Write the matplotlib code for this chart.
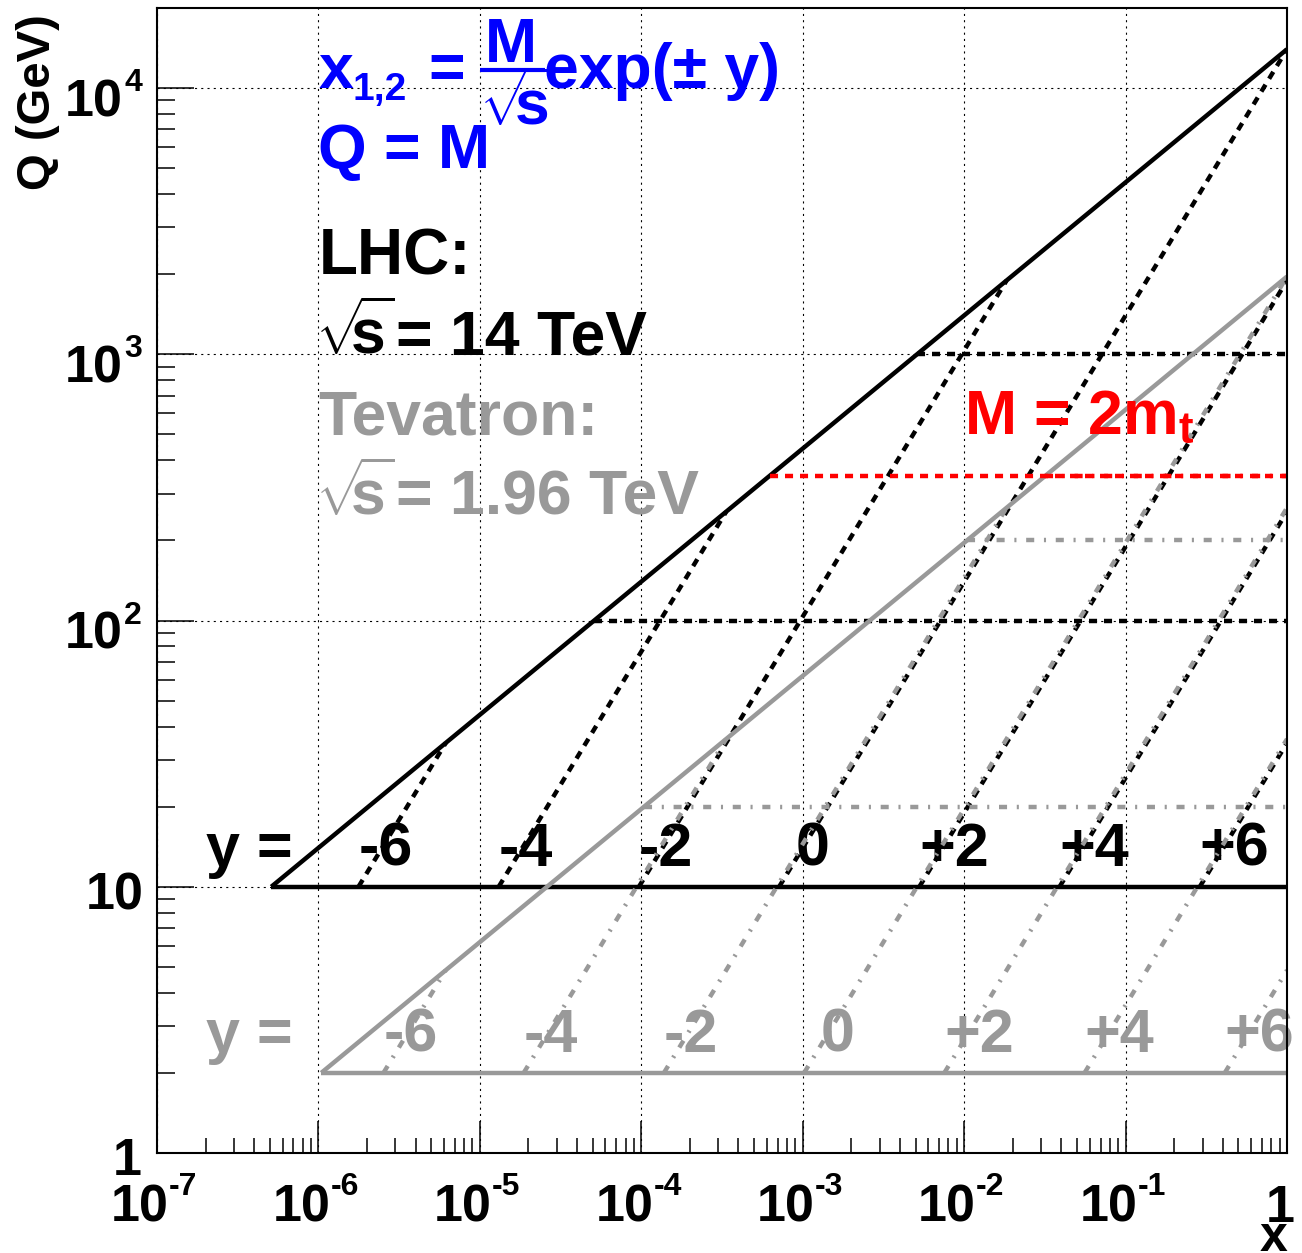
import numpy as np
import matplotlib
matplotlib.use("Agg")
import matplotlib.pyplot as plt
from matplotlib.lines import Line2D
from matplotlib.transforms import offset_copy
from matplotlib.ticker import LogLocator, NullFormatter

plt.rcParams["font.family"] = ["Liberation Sans", "DejaVu Sans"]
plt.rcParams["font.weight"] = "bold"
plt.rcParams["mathtext.fontset"] = "custom"
plt.rcParams["mathtext.rm"] = "Liberation Sans:bold"
plt.rcParams["mathtext.it"] = "Liberation Sans:bold"
plt.rcParams["mathtext.bf"] = "Liberation Sans:bold"
plt.rcParams["mathtext.sf"] = "Liberation Sans:bold"
plt.rcParams["lines.scale_dashes"] = False

# Collider energies (GeV) and mass thresholds
sqrt_s_lhc = 14000.0
sqrt_s_tev = 1960.0
m_min_lhc = 10.0
m_min_tev = 2.0
rapidities = [-6, -4, -2, 0, 2, 4, 6]
rapidity_labels = ["-6", "-4", "-2", " 0", "+2", "+4", "+6"]
m_lines_lhc = [100.0, 1000.0]
m_lines_tev = [20.0, 200.0]
m_top = 175.0
m_ttbar = 2 * m_top

x_decades = [-7, -6, -5, -4, -3, -2, -1, 0]
q_decades = [0, 1, 2, 3, 4]
x_range = (1e-7, 1.0)
q_range = (1.0, 2e4)

BLACK = "black"
GREY = "#999999"
RED = "#ff0000"
BLUE = "#0000ff"

LW = 3.2
DASHED = (0, (5.8, 5.0))
DASHDOT = (0, (5.8, 7.0, 1.5, 7.0))
SQRT_S = r"$\sqrt{\!\!s}$"

fig = plt.figure(figsize=(13.02, 12.53), dpi=100)
ax = fig.add_axes([157 / 1302, 1 - 1153 / 1253, 1130 / 1302, 1145 / 1253])
ax.set_xscale("log")
ax.set_yscale("log")
ax.set_xlim(*x_range)
ax.set_ylim(*q_range)


def draw_collider(sqrt_s, m_min, m_lines, color, style, z):
    s = sqrt_s ** 2
    # kinematic limit x = M^2 / s
    q = np.array([m_min, sqrt_s])
    ax.plot(q ** 2 / s, q, color=color, lw=LW, zorder=z, solid_capstyle="butt")
    # lowest mass considered
    ax.plot([m_min ** 2 / s, 1.0], [m_min, m_min], color=color, lw=LW, zorder=z,
            solid_capstyle="butt")
    # lines of constant rapidity
    for y in rapidities:
        m = np.array([m_min, sqrt_s * np.exp(-abs(y))])
        ax.plot(m / sqrt_s * np.exp(y), m, color=color, lw=LW, ls=style, zorder=z)
    # fixed-mass lines
    for m in m_lines:
        ax.plot([m ** 2 / s, 1.0], [m, m], color=color, lw=LW, ls=style, zorder=z)


draw_collider(sqrt_s_lhc, m_min_lhc, m_lines_lhc, BLACK, DASHED, 3)
draw_collider(sqrt_s_tev, m_min_tev, m_lines_tev, GREY, DASHDOT, 4)

# top-pair threshold for both machines
ax.plot([m_ttbar ** 2 / sqrt_s_lhc ** 2, 1.0], [m_ttbar, m_ttbar], color=RED, lw=LW,
        ls=DASHED, zorder=5)
ax.plot([m_ttbar ** 2 / sqrt_s_tev ** 2, 1.0], [m_ttbar, m_ttbar], color=RED, lw=LW,
        ls=DASHDOT, zorder=5)


def put(text, anchor, dx, dy, size, color=BLACK, ha="left", z=6):
    """Place text at a pixel offset from a data-space anchor (baseline aligned)."""
    return ax.annotate(text, xy=anchor, xycoords="data", xytext=(dx, dy),
                       textcoords="offset pixels", ha=ha, va="baseline",
                       fontsize=size, color=color, annotation_clip=False, zorder=z)


# rapidity labels
FS_LAB = 44
for sqrt_s, m_min, color in [(sqrt_s_lhc, m_min_lhc, BLACK), (sqrt_s_tev, m_min_tev, GREY)]:
    ax.text(2e-7, 1.2 * m_min, "y =", color=color, fontsize=FS_LAB, ha="left",
            va="baseline", zorder=6)
    for y, lab in zip(rapidities, rapidity_labels):
        ax.text(m_min / sqrt_s * np.exp(y), 1.2 * m_min, lab, color=color,
                fontsize=FS_LAB, ha="left", va="baseline", zorder=2)

# parton-momentum formula
FS_TXT = 45
f_anchor = (1e-6, 1e4)
put("x", f_anchor, 0, 0, FS_TXT, BLUE)
put("1,2", f_anchor, 34, -12, 28, BLUE)
put("=", f_anchor, 110, 0, FS_TXT, BLUE)
put("M", f_anchor, 192, 26, FS_TXT, BLUE, ha="center")
put(SQRT_S, f_anchor, 161, -37, FS_TXT, BLUE)
put("exp(\u00b1 y)", f_anchor, 226, 0, FS_TXT, BLUE)
bar_tr = offset_copy(ax.transData, fig=fig, x=0, y=18, units="dots")
ax.add_line(Line2D([1e-6 * 10 ** (162 / 161.4), 1e-6 * 10 ** (227 / 161.4)], [1e4, 1e4],
                   transform=bar_tr, color=BLUE, lw=3.0, solid_capstyle="butt",
                   clip_on=False, zorder=6))

put("Q = M", (1e-6, 5e3), 0, 0, FS_TXT, BLUE)
put("LHC:", (1e-6, 2e3), 0, 0, 46, BLACK)
put(SQRT_S, (1e-6, 1e3), -3, 0, FS_TXT, BLACK)
put("= 14 TeV", (1e-6, 1e3), 78, 0, FS_TXT, BLACK)
put("Tevatron:", (1e-6, 5e2), 0, 0, FS_TXT, GREY)
put(SQRT_S, (1e-6, 2.5e2), -3, 0, FS_TXT, GREY)
put("= 1.96 TeV", (1e-6, 2.5e2), 78, 0, FS_TXT, GREY)
put(r"M = 2m$_{t}$", (1e-2, 5e2), 0, 0, FS_TXT, RED)

# axis ticks
for axis in (ax.xaxis, ax.yaxis):
    axis.set_major_locator(LogLocator(base=10, numticks=20))
    axis.set_minor_locator(LogLocator(base=10, subs=np.arange(2, 10), numticks=100))
    axis.set_major_formatter(NullFormatter())
    axis.set_minor_formatter(NullFormatter())

ax.tick_params(axis="both", which="both", direction="in", top=False, right=False,
               width=1.1)
ax.tick_params(axis="x", which="major", length=23)
ax.tick_params(axis="x", which="minor", length=10.8)
ax.tick_params(axis="y", which="major", length=26.6)
ax.tick_params(axis="y", which="minor", length=13)

# decade labels with small superscript exponents
FS_TICK = 37.5
FS_SUP = 23
for e in x_decades:
    pos = (10.0 ** e, q_range[0])
    if e == 0:
        put("1", pos, -7, -69, FS_TICK, ha="center")
    else:
        put("10", pos, -46, -69, FS_TICK)
        put("%d" % e, pos, 12, -42, FS_SUP)
for e in q_decades:
    pos = (x_range[0], 10.0 ** e)
    if e == 0:
        put("1", pos, -15, -22, FS_TICK, ha="right")
    elif e == 1:
        put("10", pos, -13, -23, FS_TICK, ha="right")
    else:
        put("10", pos, -34, -28, FS_TICK, ha="right")
        put("%d" % e, pos, -33, -3, FS_SUP)

ax.grid(True, which="major", color="black", lw=0.8, ls=(0, (1.5, 3.0)))
ax.set_axisbelow(True)
for sp in ax.spines.values():
    sp.set_linewidth(1.5)
    sp.set_zorder(10)

fig.text(38 / 1302, 1 - 14 / 1253, "Q (GeV)", rotation=90, ha="center", va="top",
         fontsize=34)
fig.text(1287 / 1302, 1 - 1251 / 1253, "x", ha="right", va="baseline", fontsize=36)

fig.savefig("out.png", dpi=100)
